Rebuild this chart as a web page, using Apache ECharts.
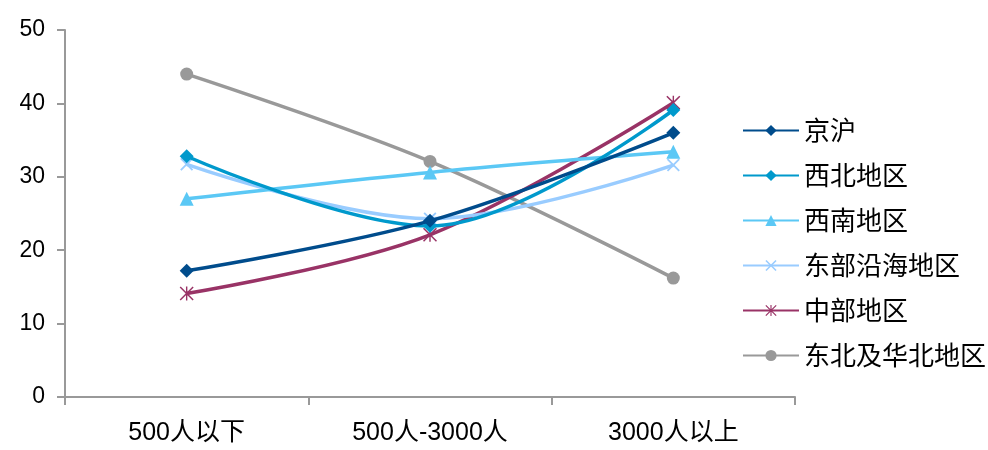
<!DOCTYPE html>
<html><head><meta charset="utf-8">
<script src="https://cdn.jsdelivr.net/npm/echarts@6/dist/echarts.min.js"></script>
<style>html,body{margin:0;padding:0;background:#fff}#c{width:988px;height:450px}</style>
</head><body><div id="c"></div>
<script>
var categories = ['500人以下', '500人-3000人', '3000人以上'];
var seriesNames = ['京沪', '西北地区', '西南地区', '东部沿海地区', '中部地区', '东北及华北地区'];
var jinghu = [17.2, 24.0, 36.0];
var xibei = [32.8, 23.3, 39.1];
var xinan = [27.0, 30.6, 33.4];
var dongbuYanhai = [31.7, 24.3, 31.6];
var zhongbu = [14.1, 22.1, 40.1];
var dongbeiHuabei = [44.0, 32.1, 16.2];
var yTicks = [0, 10, 20, 30, 40, 50];

var colors = ['#004c8c', '#0099cc', '#5bc8f5', '#99ccff', '#993366', '#999999'];
var xPath = 'path://M0,2 L2,0 L10,8 L18,0 L20,2 L12,10 L20,18 L18,20 L10,12 L2,20 L0,18 L8,10 Z';
var starPath = 'path://M0,1.5 L1.5,0 L10,8.5 L18.5,0 L20,1.5 L11.5,10 L20,18.5 L18.5,20 L10,11.5 L1.5,20 L0,18.5 L8.5,10 Z M9,0 L11,0 L11,20 L9,20 Z';
var symbols = ['diamond', 'diamond', 'triangle', xPath, starPath, 'circle'];
var symbolSizes = [14, 14, 14, 13, 14, 13];
var allData = [jinghu, xibei, xinan, dongbuYanhai, zhongbu, dongbeiHuabei];

var series = seriesNames.map(function (n, i) {
  return {
    name: n, type: 'line', data: allData[i], smooth: 0.35,
    symbol: symbols[i], symbolSize: symbolSizes[i],
    lineStyle: { color: colors[i], width: 3.5 },
    itemStyle: { color: colors[i] },
    z: 10 - i
  };
});

var chart = echarts.init(document.getElementById('c'), null, { renderer: 'canvas' });
chart.setOption({
  animation: false,
  backgroundColor: '#ffffff',
  grid: { left: 65, right: 193, top: 30, bottom: 53 },
  xAxis: {
    type: 'category', data: categories, boundaryGap: true,
    axisLine: { lineStyle: { color: '#999999', width: 2 } },
    axisTick: { show: true, length: 8, lineStyle: { color: '#999999', width: 2 } },
    axisLabel: { color: '#000', fontSize: 25, fontFamily: 'Liberation Sans, Arial, Noto Sans CJK SC', margin: 24 }
  },
  yAxis: {
    type: 'value', min: yTicks[0], max: yTicks[yTicks.length - 1], interval: 10,
    axisLine: { show: true, lineStyle: { color: '#999999', width: 2 } },
    axisTick: { show: true, length: 8, lineStyle: { color: '#999999', width: 2 } },
    splitLine: { show: false },
    axisLabel: { color: '#000', fontSize: 23, fontFamily: 'Liberation Sans, Arial', margin: 20 }
  },
  legend: {
    orient: 'vertical', left: 737, top: 112,
    itemWidth: 56, itemHeight: 14, itemGap: 18,
    textStyle: { fontSize: 26, color: '#000', fontFamily: 'Noto Sans CJK SC', lineHeight: 27 },
    data: seriesNames
  },
  series: series
});
</script></body></html>
